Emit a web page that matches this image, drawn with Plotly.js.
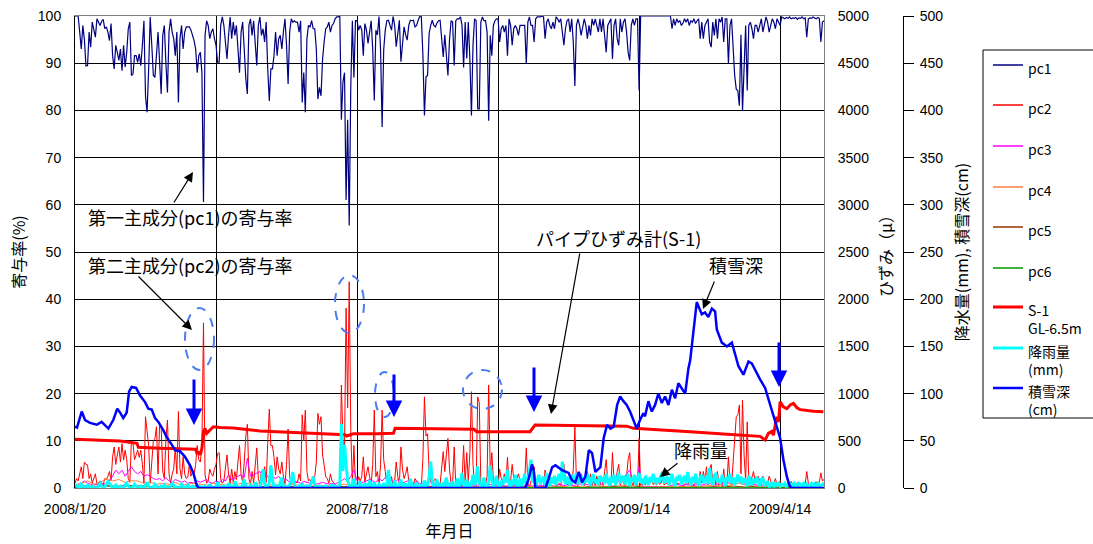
<!DOCTYPE html>
<html>
<head>
<meta charset="utf-8">
<script src="https://cdn.plot.ly/plotly-3.0.1.min.js"></script>
<style>html,body{margin:0;padding:0;background:#fff}</style>
</head>
<body>
<div id="chart" style="width:1093px;height:544px"></div>
<script>
// ---- period and date axis ----
const startDate = '2008-01-20';
const endDate = '2009-05-12';
const tickDates = ['2008-01-20', '2008-04-19', '2008-07-18', '2008-10-16', '2009-01-14', '2009-04-14'];
const tickLabels = ['2008/1/20', '2008/4/19', '2008/7/18', '2008/10/16', '2009/1/14', '2009/4/14'];

// ---- contribution ratios (%), daily from 2008/1/20 ----
const pc1 = [
100,100,100,96.6,93,98,95,89.4,89.5,96.6,
93.4,98.7,97.3,95.5,99.4,98.7,98,98.9,99.3,97.3,
97.7,96.6,94.8,98.4,91.6,88.8,93.8,92.3,90.6,93,
88.4,93.8,89.2,92.3,97.3,98.7,87.4,87.7,91.6,91.6,
90.2,92,89.5,93.8,99,83,79.6,88.8,99.8,93.8,
87.4,87,91.6,96.6,90.2,83.5,95.9,98,90.2,83.8,
96.6,99.4,96.6,95.2,91.6,96.6,81.7,95.2,98,93,
96.6,97.7,97.7,97.7,97,95.9,94.8,93,88,91.6,
92.3,88,60.6,95.9,99,98,95.2,96.6,97.3,95.2,
93.8,90.2,90.2,98,99.8,98,93.8,90.9,95.9,99.8,
95.2,98.7,95.9,98,93,88,96.6,98.7,93,86.7,
83.5,98,99.4,95.9,99,93,89.5,98,99.8,95.9,
97.3,94.5,98.7,88.8,82,88.8,88.8,91.6,96.6,91.6,
95.2,95.9,93,96.6,99.4,93.8,85.6,96.6,99.4,98.7,
99,98.7,98.7,96.6,99,81.7,88,79.6,95.2,98,
97.7,99,97.3,97.3,93,82.4,84.9,83.1,90.9,94.5,
97.3,97.7,98.7,96.6,98,98.4,99.4,99.8,99.8,100,
78,86,88,61,78,55.6,85,99,87,99,
99,97,98,97,91.6,98.4,97,94.2,97,99,
93,82.1,97,96,99.9,93,76.5,92.8,97,99,
99.1,98,97,99.9,98,93.5,97,99.1,90.3,95,
97.7,96,94.9,98,99.1,99,99.1,97.7,98,99.1,
99.9,100,92,78.9,87.1,87.4,96.3,98,99.1,98,
97.7,98.5,99,99.1,95,91.3,96,90.6,87.4,94.9,
99,98.7,89.5,99,99.4,99.4,99.8,98,89.1,98.7,
91,98.7,91,78.9,93.8,99.4,99,80.3,80.3,98.7,
99.8,99,99,96.6,77.8,95.9,91.6,98,99,99.4,
99.4,94.5,97.3,98,96.6,98,91.6,99.4,98,93.8,
97.3,98,97.3,95.9,98,98,98,98,89.9,98.7,
99.8,98,98,94.5,99.4,99.8,99.8,99.8,100,99.8,
95.2,98.7,99.4,98,97.3,98.7,97.3,99.8,99.4,98.7,
99.4,95.9,93.8,97.3,99,99.4,96.6,99.4,94.5,85.2,
98,99.4,98,95.9,98,99.4,98,95.2,98,95.9,
99.4,98,99.4,98,96.6,99.4,96.6,99.4,95.2,92.3,
98,98.7,99.4,90.9,98,99.4,95.2,93.8,99.4,96.6,
98.7,99.4,96.6,92.3,90.6,98,99.4,98,99.4,99.4,
84.2,100,100,100,100,100,100,100,100,100,
100,100,100,100,100,100,100,100,100,100,
100,97.3,99.4,98,99.4,98.7,99,98,98.5,99.4,
98.7,99.4,98,99,98.7,99.4,98.4,99,99.4,95.2,
98.7,95.2,98,98.7,99.4,94.5,93.4,98.7,95.9,99.4,
95.2,99.4,98.7,99.8,94.5,99.4,99.4,89.9,98,99.4,
93.8,87.4,84.5,84.2,81,96,79.9,91.6,98,84.2,
98,98.7,97.3,95.2,98,98,96.6,98,99.4,96.6,
98,99.8,98.7,96.6,98,99.4,98.7,97.3,99.4,98.7,
98,99.8,99.6,99.4,99.7,99.5,99.8,99.4,99.6,99.5,
99.7,99.3,99.6,99.5,99.8,99.4,99.6,95.5,99.4,99.6,
99.5,99.8,99.6,99.4,99.7,99.5,94.5,98.7,99
];

const pc2 = [
1,2,1.5,3,4.5,2,5.5,5,4.9,2,
3,1,2,3,0.8,1.2,1.5,1,0.7,2,
1.8,2.5,3.5,1.5,6.6,8.7,5,7,8.7,5.5,
9.4,5.9,8,6,2,1.2,10,9.5,6,7,
8,6.5,8,5,1,15.1,12,9,1,5.5,
10,10.5,13,3,13.5,13,3.5,2,10.2,14.4,
3,1,3,4,8.7,3,16.2,4,2,6.6,
3,2,2.3,4.9,2.5,3.5,3,5,9,6,
5.5,9,35,2.8,1,1.5,4,3,2.5,4,
5,7.3,7.5,1.8,1,1.5,5,7,3,1,
4,1.2,3.5,1.8,5.5,9,2.8,1.2,5.5,11,
13.5,2,0.8,3.5,1,5.5,8.5,2,0.8,3.5,
2.4,4.5,1.2,9.5,16.7,9,9,6.5,2.8,6.6,
4,3,5.5,2.4,0.8,5,12.5,2.4,0.8,1.2,
1,1.2,1.2,3,1.5,15.5,10,16.5,3.5,1.5,
1.8,1,2.4,2.4,5.5,15.8,13.5,15.1,7,4.9,
2.4,2,1,3,1.5,1.2,0.6,0.3,0.3,0.2,
21.8,10,8,38.1,17,43.7,12,1,9,1,
0.8,2.4,1.5,2.4,6.6,1.2,3,4.5,2.4,0.8,
5,16.5,2.4,3.5,0.3,4.9,16.5,6,3.5,0.8,
0.8,1.5,2.4,0.3,1.5,5.5,2.4,0.8,8.7,4,
2,3,4.5,1.5,0.8,1,0.8,2,1.5,0.8,
0.3,0.2,6,19.3,11,11.5,3.5,1.5,0.8,1.5,
2,1.2,0.8,0.8,4,7.7,3.5,8,10.5,4,
1,1.2,8.7,0.8,0.5,0.5,0.2,1.5,9,1,
7.5,1.2,7.5,20.4,5,0.6,0.8,19.3,18,1,
0.3,0.8,0.8,2.5,21.8,3,7.5,1.5,0.8,0.5,
0.5,4,2,1.5,3,1.5,6.5,0.5,1.5,5,
2,1.5,2,3,1.5,1.5,1.5,1.5,8.5,1,
0.2,1.5,1.5,4.5,0.5,0.2,0.2,0.2,0.1,0.2,
3.8,1,0.5,1.5,2,1,2,0.2,0.5,1,
0.5,3,5,2,0.8,0.5,2.5,0.5,4,13,
1.5,0.5,1.5,3,1.5,0.5,1.5,3.5,1.5,3,
0.5,1.5,0.5,2.5,1,0.5,2.5,0.5,3.5,6,
1.5,1,0.5,7.5,1.5,0.5,3.5,5,0.5,2.5,
1,0.5,2.5,6,7.5,1.5,0.5,1.5,0.5,0.5,
10.5,0.5,0.8,1.2,0.6,1.5,0.8,1,2.3,0.7,
1.2,0.6,1.5,0.8,1,2,0.6,1.2,0.8,1.5,
1.5,2,0.8,1.5,0.8,1,0.8,1.5,1,0.6,
1,0.6,1.5,0.8,1,0.6,1.2,0.8,0.6,3.5,
1,3.5,1.5,4.5,0.6,4,5,1,3,0.6,
3.5,0.6,1,0.3,4,0.6,0.6,6.6,1.5,0.6,
5,10.9,15.1,15.5,17.6,3,18.6,7,1.5,14,
1.5,1,2,3.5,1.5,1.5,2.5,1.5,0.6,2.5,
1.5,0.3,1,2.5,1.5,0.6,1,2,0.6,1,
1.5,0.5,0.8,1.2,0.6,1,0.5,1.4,0.8,1,
0.6,1.2,0.8,1,0.5,1.1,0.8,3.5,1,0.7,
0.9,0.5,1,1.3,0.6,1.2,3.2,1.5,1.8
];

// every 2 days
const pc3 = [
0.5,0.8,1,1.5,1,0.8,0.6,0.8,1,0.8,
1,1.5,2.5,3.8,3,3.8,2.5,3.5,4.5,3.5,
3,3.5,2.5,2.8,2.5,2,1.8,2,1.5,2.2,
1.5,1.2,1.8,1.5,1.2,1.5,1,1.2,1,1.5,
1.2,1.5,1.8,1.2,1,1.5,1.2,1.8,1.5,2.8,
1.8,2,2.5,2.8,2.2,6.3,2.5,2.8,3.2,3.5,
2.5,2.8,2,2.4,2,2.5,1.5,2,1.5,1.2,
1.5,1.2,1,1.4,1.2,1,1.2,0.8,1,1.2,
1,0.8,1,0.8,1.2,1.5,2,1.5,2.5,3.8,
1.5,1,1.2,1.5,1.8,1.5,1.2,2,1.5,2.2,
3,1.5,1.2,1.8,1,1.2,1.5,1,0.8,1.5,
1,0.8,1,1.5,0.8,1,0.6,0.8,1.5,1,
0.8,0.6,0.8,0.5,0.6,0.8,1,0.6,0.5,0.8,
0.6,0.5,0.8,0.6,0.5,0.4,0.6,0.5,0.4,0.6,
0.5,0.6,0.5,0.4,0.6,0.5,0.4,0.5,0.6,0.5,
0.4,0.6,0.5,0.4,0.6,0.8,0.5,0.6,0.8,0.5,
0.6,0.8,1,0.8,0.6,1,1.2,1,0.8,1.5,
1.2,2,2.8,1.5,1.2,1.8,3,3.8,1.5,1.2,
4.5,0.5,0.3,0.3,0.3,0.3,0.3,0.3,0.3,0.3,
0.5,0.6,0.8,0.6,0.5,0.8,0.6,0.5,0.6,0.8,
0.6,0.8,1,0.8,0.6,0.8,1,0.8,1.2,1,
1.8,1.5,1.2,1,0.8,1,0.6,0.8,0.5,0.6,
0.5,0.4,0.6,0.5,0.4,0.5,0.6,0.4,0.5,0.6,
0.5,0.4,0.6,0.5,0.4,0.8,1,0.6,0.5,0.6
];

// every 4 days
const pc4 = [
0.5,1,1.5,0.8,1.2,2,1.5,1.8,1.2,1.5,
1.5,1,1.2,0.8,1,0.8,1.2,0.6,0.8,1,
0.8,0.6,1,0.8,0.6,1,0.8,1.2,0.8,1,
0.8,0.6,0.8,0.5,0.6,0.8,0.5,0.6,0.4,0.6,
0.5,0.4,0.6,0.8,0.6,0.5,0.6,0.4,0.5,0.6,
0.5,0.4,0.5,0.6,0.4,0.5,0.3,0.4,0.5,0.4,
0.3,0.4,0.3,0.5,0.3,0.4,0.3,0.2,0.3,0.4,
0.3,0.2,0.3,0.4,0.3,0.2,0.3,0.4,0.3,0.2,
0.3,0.4,0.3,0.5,0.4,0.3,0.5,0.4,0.6,0.5,
0.6,0.2,0.2,0.2,0.2,0.3,0.4,0.3,0.4,0.3,
0.4,0.5,0.4,0.6,0.5,0.8,1,0.6,0.5,0.4,
0.3,0.4,0.3,0.2,0.3,0.2,0.3,0.4,0.3,0.2
];
const pc5 = [
0.2,0.3,0.5,0.3,0.4,0.6,0.5,0.4,0.6,0.5,
0.4,0.5,0.3,0.4,0.3,0.4,0.3,0.2,0.3,0.4,
0.3,0.2,0.3,0.4,0.3,0.2,0.3,0.4,0.3,0.3,
0.2,0.3,0.2,0.3,0.2,0.3,0.2,0.2,0.3,0.2,
0.2,0.3,0.2,0.3,0.4,0.3,0.2,0.3,0.2,0.3,
0.2,0.3,0.2,0.2,0.3,0.2,0.2,0.3,0.2,0.2,
0.1,0.2,0.1,0.2,0.1,0.2,0.1,0.1,0.2,0.1,
0.1,0.2,0.1,0.1,0.2,0.1,0.1,0.2,0.1,0.1,
0.2,0.1,0.2,0.2,0.1,0.2,0.3,0.2,0.3,0.2,
0.3,0.1,0.1,0.1,0.1,0.1,0.2,0.1,0.2,0.1,
0.2,0.2,0.3,0.2,0.3,0.4,0.3,0.2,0.3,0.2,
0.1,0.2,0.1,0.1,0.2,0.1,0.1,0.2,0.1,0.1
];
const pc6 = [
0.1,0.2,0.3,0.2,0.3,0.4,0.3,0.2,0.4,0.3,
0.3,0.2,0.3,0.2,0.2,0.3,0.2,0.2,0.1,0.2,
0.2,0.1,0.2,0.2,0.1,0.2,0.2,0.1,0.2,0.2,
0.1,0.2,0.1,0.2,0.1,0.1,0.2,0.1,0.1,0.2,
0.1,0.1,0.2,0.1,0.2,0.2,0.1,0.2,0.1,0.1,
0.1,0.2,0.1,0.1,0.2,0.1,0.1,0.1,0.2,0.1,
0.1,0.1,0.05,0.1,0.05,0.1,0.05,0.1,0.05,0.1,
0.05,0.1,0.05,0.05,0.1,0.05,0.1,0.05,0.05,0.1,
0.1,0.05,0.1,0.1,0.05,0.1,0.1,0.2,0.1,0.1,
0.2,0.05,0.05,0.05,0.05,0.05,0.1,0.05,0.1,0.05,
0.1,0.1,0.2,0.1,0.1,0.2,0.2,0.1,0.1,0.1,
0.05,0.1,0.05,0.05,0.1,0.05,0.05,0.1,0.05,0.05
];

// ---- daily rainfall (mm) ----
const rain = [
2,3,1,0,4,2,0,1,3,0,
0,2,1,0,0,3,5,2,0,1,
4,7,5,2,0,1,3,0,0,2,
1,0,3,5,2,0,0,1,4,2,
0,0,2,1,0,3,6,2,0,0,
1,4,2,0,0,2,0,3,1,0,
0,2,5,3,0,1,0,0,4,2,
0,1,3,0,0,2,1,0,0,3,
0,1,0,2,0,0,4,1,0,0,
2,6,1,0,0,3,0,0,5,2,
0,0,7,3,0,1,0,4,9,2,
0,0,3,1,0,6,2,0,0,8,
20,5,0,2,6,24,9,1,0,3,
0,5,11,2,0,1,0,4,7,17,
3,0,0,2,0,5,1,0,3,0,
2,6,12,3,0,0,2,0,1,0,
3,0,0,1,4,0,2,0,0,3,
68,18,46,25,8,3,0,4,10,2,
0,3,7,1,0,5,2,0,8,3,
0,6,1,0,4,2,0,5,3,0,
19,6,0,2,8,1,0,3,9,2,
0,5,1,0,10,3,0,2,6,0,
1,4,0,8,2,3,12,28,6,0,
3,9,2,0,5,1,4,11,2,0,
3,7,0,2,10,1,6,16,4,0,
9,2,0,5,14,3,8,23,6,1,
4,11,2,0,7,24,9,1,5,13,
2,0,8,3,12,6,19,4,1,9,
3,14,5,0,10,2,7,15,3,8,
18,30,6,11,2,9,14,4,8,12,
3,16,7,2,11,5,13,3,9,15,
6,28,10,4,12,7,2,14,5,10,
16,4,9,13,3,11,6,15,8,2,
12,14,5,9,3,13,7,11,4,15,
8,2,12,6,14,3,10,16,5,9,
13,4,8,15,2,11,7,14,3,9,
16,5,10,4,13,8,3,12,6,15,
9,4,11,6,14,17,5,9,12,3,
10,15,6,2,12,8,14,4,9,13,
5,17,8,3,12,6,15,9,2,11,
14,5,9,13,4,21,8,3,12,16,
6,10,4,14,9,2,12,7,15,5,
11,3,9,14,6,12,4,10,8,2,
13,7,3,10,5,12,8,2,9,11,
2,5,7,1,4,6,1,5,3,6,
2,4,3,5,1,4,5,2,3,5,
1,4,6,1,3,5,2,4,1,3,
5,2,4,1,5,3,2,4,5
];

// ---- snow depth (cm): [day from 2008/1/20, depth] ----
const snowDepth = [
[0,65],[1.3,64],[4.3,81],[6.4,72],[9.6,69],[13.9,67],[17,70],[19.1,67],[21.3,63],[24.4,72],
[27,84],[28.7,80],[30.8,74],[33,80],[34.5,102],[36.2,107],[39,106],[41.5,98],[44.7,91],[46.8,84],
[49,83],[51.1,74],[53.2,70],[56.4,61],[58.5,54],[61.7,46],[63.8,40],[67,39],[70.2,33],[73.4,24],
[75.5,16],[77.7,3],[78.7,0],[287.4,0],[289.6,10],[291.7,25],[292.8,18],[293.8,0],[300.2,0],[302.3,10],
[304.5,22],[306.6,24],[308.7,21],[310.8,19],[315,16],[317.2,8],[319.3,6],[321.5,17],[323.6,6],[325.7,12],
[327.9,40],[330,37],[332.1,17],[335.3,22],[337.4,53],[339.6,67],[341.7,63],[343.8,65],[346,88],[347.9,97],
[350,92],[352.1,88],[354.2,81],[356.4,71],[358.5,63],[360.6,72],[362.7,79],[363.8,76],[365.9,92],[368.1,81],
[370.2,88],[372.3,100],[374.5,90],[376.6,97],[378.7,88],[380.9,104],[383,95],[385.1,111],[387.2,106],[389.4,100],
[391.5,127],[392.6,135],[396.8,197],[398.5,190],[400,184],[402.1,186],[404.2,181],[406.4,190],[408.5,187],[409.6,168],
[412.8,154],[416,150],[419.2,154],[420.2,148],[423.4,129],[426.6,120],[429.8,134],[431.9,132],[434,125],[437.2,115],
[440.4,106],[443.6,88],[446.8,72],[450,53],[452.1,30],[454.3,12],[455.9,3],[457,0],[478,0]
];

// ---- pipe strain gauge S-1, GL-6.5m (μ): [day from 2008/1/20, strain] ----
const s1Strain = [
[0,516],[16,505],[28.7,497],[39.6,473],[40.4,431],[54.3,421],[73.4,415],[77,410],[78,360],[79,385],
[80,350],[81,420],[82,600],[83,632],[84,579],[86.2,614],[88.3,649],[92.6,642],[101,635],[118,604],
[139.3,590],[160.7,579],[169.1,575],[172.3,565],[173.4,551],[175.5,565],[177.7,575],[192.6,575],[203.2,579],[204.3,632],
[224.5,628],[245.7,625],[254.7,622],[256.4,596],[275.6,594],[290.4,596],[293.6,667],[318,663],[339.4,660],[352.1,655],
[356.4,632],[371.3,614],[392.6,596],[413.8,572],[430.8,551],[437.2,547],[440.4,508],[442.5,579],[444.7,600],[445.7,560],
[447.9,755],[449,700],[450,914],[451,880],[452.1,860],[454.3,840],[456.4,880],[458.5,897],[460.7,850],[462.8,830],
[467,818],[471.3,812],[477.6,808]
];

// ---- helpers ----
const T0 = Date.UTC(2008, 0, 20);
function dateOf(day) {
  return new Date(T0 + Math.round(day * 24) * 3600000).toISOString().slice(0, 16).replace('T', ' ');
}
function stepDates(n, step) {
  const out = [];
  for (let i = 0; i < n; i++) out.push(dateOf(i * step));
  return out;
}

const JP = 'Noto Sans CJK JP, sans-serif';
const LAT = 'Liberation Sans, Arial, sans-serif';

const series = [
  { name: 'pc1', x: stepDates(pc1.length, 1), y: pc1, yaxis: 'y', color: '#000080', width: 1.2 },
  { name: 'pc2', x: stepDates(pc2.length, 1), y: pc2, yaxis: 'y', color: '#FF0000', width: 1 },
  { name: 'pc3', x: stepDates(pc3.length, 2), y: pc3, yaxis: 'y', color: '#FF00FF', width: 1 },
  { name: 'pc4', x: stepDates(pc4.length, 4), y: pc4, yaxis: 'y', color: '#FF7F3F', width: 1 },
  { name: 'pc5', x: stepDates(pc5.length, 4), y: pc5, yaxis: 'y', color: '#993300', width: 1 },
  { name: 'pc6', x: stepDates(pc6.length, 4), y: pc6, yaxis: 'y', color: '#009900', width: 1 },
  { name: 'S-1<br>GL-6.5m', x: s1Strain.map(p => dateOf(p[0])), y: s1Strain.map(p => p[1]), yaxis: 'y2', color: '#FF0000', width: 3 },
  { name: '降雨量<br>(mm)', x: stepDates(rain.length, 1), y: rain, yaxis: 'y3', color: '#00FFFF', width: 3 },
  { name: '積雪深<br>(cm)', x: snowDepth.map(p => dateOf(p[0])), y: snowDepth.map(p => p[1]), yaxis: 'y3', color: '#0000FF', width: 2.5 }
];

const traces = series.map(s => ({
  type: 'scatter', mode: 'lines', name: s.name, x: s.x, y: s.y, yaxis: s.yaxis,
  line: { color: s.color, width: s.width }, showlegend: false, hoverinfo: 'skip'
}));

// ---- page geometry (pixels) ----
const figW = 1093, figH = 544;
const plotLeft = 75, plotRight = 824, plotTop = 16, plotBottom = 488;
const marginR = 100;
const paperW = figW - plotLeft - marginR;
const paperH = plotBottom - plotTop;
const px = x => (x - plotLeft) / paperW;
const py = y => (plotBottom - y) / paperH;

const annotations = [];
const shapes = [];

// callout texts
function label(text, x, y, size) {
  annotations.push({ text, x: px(x), y: py(y), xref: 'paper', yref: 'paper', xanchor: 'left', yanchor: 'middle',
    showarrow: false, font: { family: JP, size, color: '#000' } });
}
label('第一主成分(pc1)の寄与率', 86, 217, 18);
label('第二主成分(pc2)の寄与率', 86, 265, 18);
label('パイプひずみ計(S-1)', 534, 238, 18);
label('積雪深', 707, 265, 18);
label('降雨量', 672, 450, 18);

// arrows: tail (x0,y0) -> head (x1,y1)
function arrow(x0, y0, x1, y1, color, width, size) {
  annotations.push({ text: '', x: px(x1), y: py(y1), xref: 'paper', yref: 'paper',
    ax: x0 - x1, ay: y0 - y1, showarrow: true, arrowhead: 2, arrowsize: size,
    arrowwidth: width, arrowcolor: color, standoff: 0, startstandoff: 0 });
}
arrow(173, 204, 193, 172, '#000', 1.2, 1.6);
arrow(137, 275, 192, 330, '#000', 1.2, 1.6);
arrow(580, 252, 551, 414, '#000', 1.2, 1.6);
arrow(715, 280, 703, 309, '#000', 1.2, 1.6);
arrow(679, 462, 660, 477, '#000', 1.2, 1.6);
arrow(194, 378, 194, 425, '#0000FF', 3, 1.1);
arrow(394, 373, 394, 417, '#0000FF', 3, 1.1);
arrow(534, 366, 534, 412, '#0000FF', 3, 1.1);
arrow(779, 341, 779, 387, '#0000FF', 3, 1.1);

// dashed rings around the pc2 peaks
function ring(x0, x1, y0, y1) {
  shapes.push({ type: 'circle', xref: 'paper', yref: 'paper', x0: px(x0), x1: px(x1), y0: py(y1), y1: py(y0),
    line: { color: '#4A7CF2', width: 2, dash: 'dash' } });
}
ring(185, 214, 308, 370);
ring(335, 364, 275, 333);
ring(375, 394, 372, 417);
ring(463, 502, 370, 409);

// legend box
shapes.push({ type: 'rect', xref: 'paper', yref: 'paper', x0: px(983), x1: px(1110), y0: py(418), y1: py(50),
  line: { color: '#000', width: 1 }, fillcolor: '#fff', layer: 'below' });
const legendRows = [65, 105, 146, 187, 227, 268, 307, 348, 388];
series.forEach((s, i) => {
  const yy = legendRows[i];
  shapes.push({ type: 'line', xref: 'paper', yref: 'paper', x0: px(993), x1: px(1023), y0: py(yy), y1: py(yy),
    line: { color: s.color, width: Math.max(s.width, 1.5) } });
  annotations.push({ text: s.name, x: px(1026), y: py(yy - 9), xref: 'paper', yref: 'paper',
    xanchor: 'left', yanchor: 'top', align: 'left', showarrow: false,
    font: { family: JP, size: 14, color: '#000' } });
});

const tickFont = { family: LAT, size: 14, color: '#000' };

const layout = {
  width: figW, height: figH,
  margin: { l: plotLeft, r: marginR, t: plotTop, b: figH - plotBottom, pad: 0 },
  paper_bgcolor: '#fff', plot_bgcolor: '#fff',
  font: { family: JP, color: '#000' },
  showlegend: false,
  xaxis: {
    type: 'date', domain: [0, px(plotRight)], range: [startDate, endDate],
    tickmode: 'array', tickvals: tickDates, ticktext: tickLabels,
    showgrid: true, gridcolor: '#000', gridwidth: 1,
    showline: true, linecolor: '#808080', linewidth: 1, mirror: true,
    ticks: '', ticklabelstandoff: 8, tickfont: tickFont, zeroline: false,
    title: { text: '年月日', font: { family: JP, size: 16, color: '#000' }, standoff: 10 }
  },
  yaxis: {
    range: [0, 100], tick0: 0, dtick: 10,
    showgrid: true, gridcolor: '#000', gridwidth: 1,
    showline: true, linecolor: '#000', linewidth: 1, zeroline: false,
    ticks: '', ticklabelstandoff: 10, tickfont: tickFont,
    title: { text: '寄与率(%)', font: { family: JP, size: 16, color: '#000' }, standoff: 8 }
  },
  yaxis2: {
    overlaying: 'y', side: 'right', anchor: 'x', range: [0, 5000], tick0: 0, dtick: 500,
    showgrid: false, zeroline: false, showline: true, linecolor: '#808080', linewidth: 1,
    ticks: '', ticklabelstandoff: 10, tickfont: tickFont,
    title: { text: 'ひずみ（μ）', font: { family: JP, size: 16, color: '#000' }, standoff: 12 }
  },
  yaxis3: {
    overlaying: 'y', side: 'right', anchor: 'free', position: px(903), range: [0, 500], tick0: 0, dtick: 50,
    showgrid: false, zeroline: false, showline: true, linecolor: '#000', linewidth: 1,
    ticks: 'outside', ticklen: 10, tickcolor: '#000', tickwidth: 1, ticklabelstandoff: 3, tickfont: tickFont,
    title: { text: '降水量(mm), 積雪深(cm)', font: { family: JP, size: 16, color: '#000' }, standoff: 14 }
  },
  annotations, shapes
};

Plotly.newPlot('chart', traces, layout, { staticPlot: true, displayModeBar: false });
</script>
</body>
</html>
